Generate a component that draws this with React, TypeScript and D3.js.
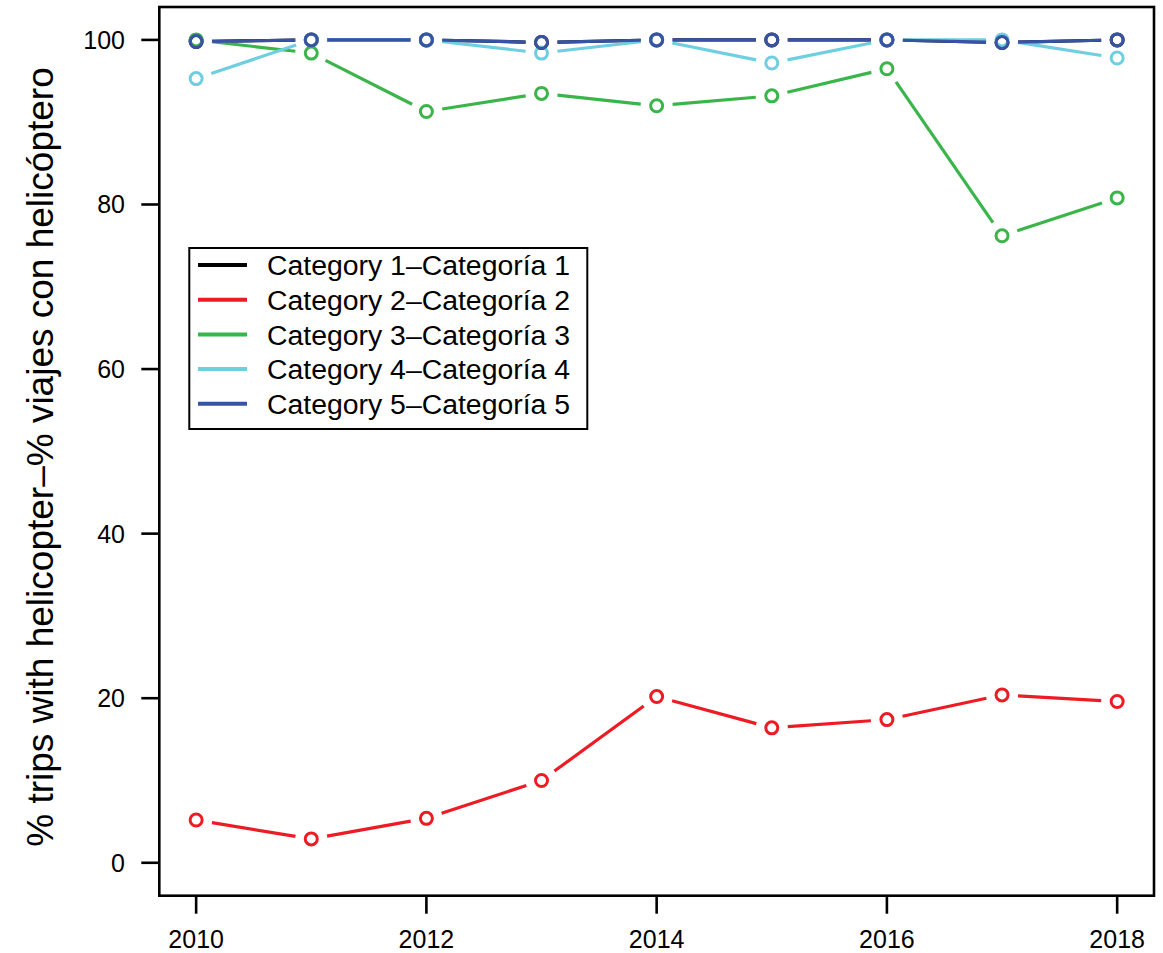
import { scaleLinear } from 'd3'

const years = [2010, 2011, 2012, 2013, 2014, 2015, 2016, 2017, 2018]
const cat1 = [99.8, 100, 100, 99.7, 100, 100, 100, 99.7, 100]
const cat2 = [5.2, 2.9, 5.4, 10.0, 20.2, 16.4, 17.4, 20.4, 19.6]
const cat3 = [100, 98.4, 91.3, 93.5, 92.0, 93.2, 96.5, 76.2, 80.8]
const cat4 = [95.3, 100, 100, 98.4, 100, 97.2, 100, 100, 97.8]
const cat5 = [99.8, 100, 100, 99.7, 100, 100, 100, 99.7, 100]

const seriesNames = [
  'Category 1–Categoría 1',
  'Category 2–Categoría 2',
  'Category 3–Categoría 3',
  'Category 4–Categoría 4',
  'Category 5–Categoría 5',
]
const seriesColors = ['#000000', '#ED1C24', '#3AB54A', '#6DCFE0', '#3953A4']
const seriesValues = [cat1, cat2, cat3, cat4, cat5]

const xTicks = [2010, 2012, 2014, 2016, 2018]
const yTicks = [0, 20, 40, 60, 80, 100]

const WIDTH = 1163
const HEIGHT = 953
const PLOT = { left: 159.3, right: 1154, top: 7, bottom: 895.7 }
const FONT = '"Liberation Sans", Arial, Helvetica, sans-serif'
const GAP = 16
const LEGEND = { x: 189.3, y: 248, width: 398, height: 181, rowStart: 265, rowStep: 34.7 }

const xScale = scaleLinear()
  .domain([2010 - 0.32, 2018 + 0.32])
  .range([PLOT.left, PLOT.right])
const yScale = scaleLinear().domain([-4, 104]).range([PLOT.bottom, PLOT.top])

// segments between points, cut back near the markers (R type = "b")
const gappedSegments = (values: number[]) =>
  values.slice(1).map((value, i) => {
    const x1 = xScale(years[i])
    const y1 = yScale(values[i])
    const x2 = xScale(years[i + 1])
    const y2 = yScale(value)
    const length = Math.hypot(x2 - x1, y2 - y1)
    if (length <= GAP * 2) return null
    const ux = (x2 - x1) / length
    const uy = (y2 - y1) / length
    return {
      x1: x1 + ux * GAP,
      y1: y1 + uy * GAP,
      x2: x2 - ux * GAP,
      y2: y2 - uy * GAP,
    }
  })

export default function App() {
  return (
    <svg
      width={WIDTH}
      height={HEIGHT}
      style={{ position: 'absolute', left: 0, top: 0, background: '#fff' }}
      fontFamily={FONT}
    >
      <rect x={0} y={0} width={WIDTH} height={HEIGHT} fill="#fff" />

      {seriesValues.map((values, si) => (
        <g key={seriesNames[si]} stroke={seriesColors[si]} fill="none">
          {gappedSegments(values).map((seg, i) =>
            seg ? (
              <line
                key={i}
                x1={seg.x1}
                y1={seg.y1}
                x2={seg.x2}
                y2={seg.y2}
                strokeWidth={3.2}
              />
            ) : null,
          )}
          {values.map((value, i) => (
            <circle
              key={years[i]}
              cx={xScale(years[i])}
              cy={yScale(value)}
              r={6}
              strokeWidth={3}
            />
          ))}
        </g>
      ))}

      <rect
        x={PLOT.left}
        y={PLOT.top}
        width={PLOT.right - PLOT.left}
        height={PLOT.bottom - PLOT.top}
        fill="none"
        stroke="#000"
        strokeWidth={2.6}
      />

      {yTicks.map((tick) => (
        <g key={tick}>
          <line
            x1={PLOT.left - 18}
            x2={PLOT.left}
            y1={yScale(tick)}
            y2={yScale(tick)}
            stroke="#000"
            strokeWidth={2.6}
          />
          <text
            x={125}
            y={yScale(tick)}
            dy="0.36em"
            textAnchor="end"
            fontSize={25}
          >
            {tick}
          </text>
        </g>
      ))}

      {xTicks.map((tick) => (
        <g key={tick}>
          <line
            x1={xScale(tick)}
            x2={xScale(tick)}
            y1={PLOT.bottom}
            y2={PLOT.bottom + 18}
            stroke="#000"
            strokeWidth={2.6}
          />
          <text x={xScale(tick)} y={948} textAnchor="middle" fontSize={25}>
            {tick}
          </text>
        </g>
      ))}

      <text
        transform="translate(53, 457) rotate(-90)"
        textAnchor="middle"
        fontSize={37}
      >
        % trips with helicopter–% viajes con helicóptero
      </text>

      <rect
        x={LEGEND.x}
        y={LEGEND.y}
        width={LEGEND.width}
        height={LEGEND.height}
        fill="#fff"
        stroke="#000"
        strokeWidth={2}
      />
      {seriesNames.map((name, i) => {
        const rowY = LEGEND.rowStart + i * LEGEND.rowStep
        return (
          <g key={name}>
            <line
              x1={198}
              x2={247}
              y1={rowY}
              y2={rowY}
              stroke={seriesColors[i]}
              strokeWidth={4}
            />
            <text x={267} y={rowY} dy="0.36em" fontSize={28.4}>
              {name}
            </text>
          </g>
        )
      })}
    </svg>
  )
}
